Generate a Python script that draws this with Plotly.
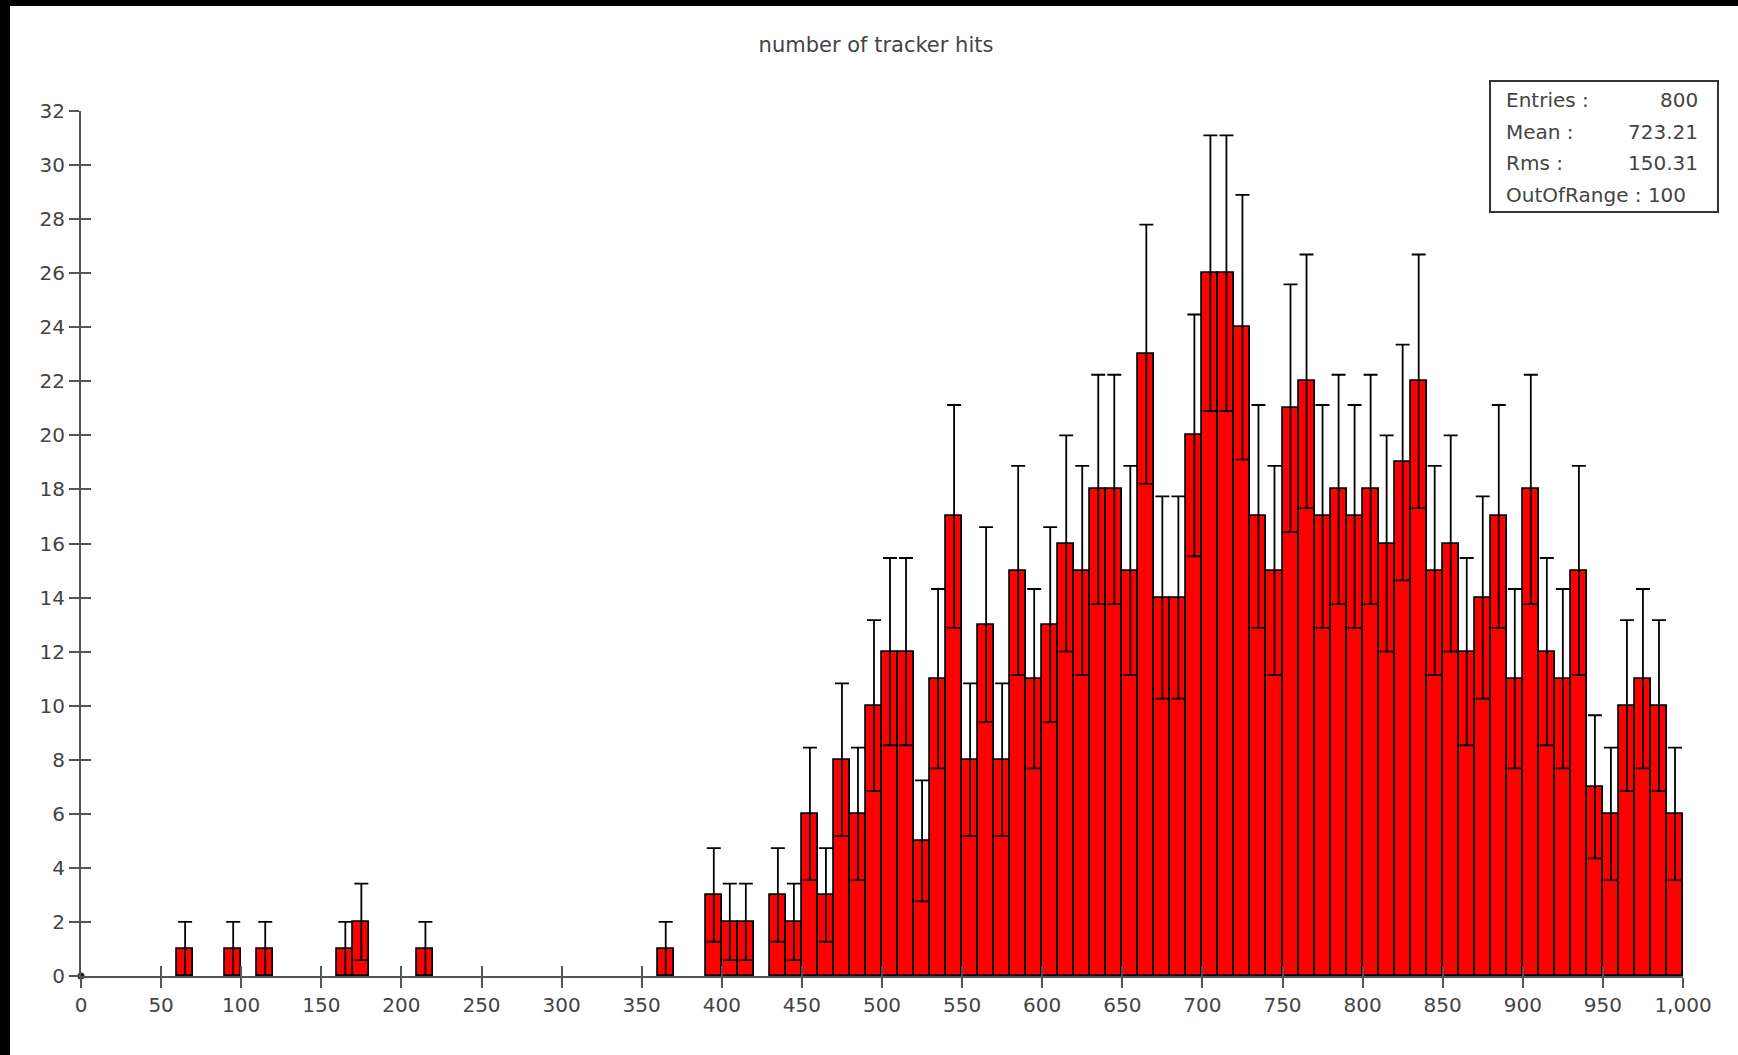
import plotly.graph_objects as go

# ---- data -------------------------------------------------------------
bin_low = list(range(0, 1000, 10))          # lower edges of 100 bins (width 10)
counts = [0] * 100
filled = {
    60: 1, 90: 1, 110: 1, 160: 1, 170: 2, 210: 1, 360: 1,
    390: 3, 400: 2, 410: 2, 420: 0, 430: 3, 440: 2,
    450: 6, 460: 3, 470: 8, 480: 6, 490: 10,
    500: 12, 510: 12, 520: 5, 530: 11, 540: 17,
    550: 8, 560: 13, 570: 8, 580: 15, 590: 11,
    600: 13, 610: 16, 620: 15, 630: 18, 640: 18,
    650: 15, 660: 23, 670: 14, 680: 14, 690: 20,
    700: 26, 710: 26, 720: 24, 730: 17, 740: 15,
    750: 21, 760: 22, 770: 17, 780: 18, 790: 17,
    800: 18, 810: 16, 820: 19, 830: 22, 840: 15,
    850: 16, 860: 12, 870: 14, 880: 17, 890: 11,
    900: 18, 910: 12, 920: 11, 930: 15, 940: 7,
    950: 6, 960: 10, 970: 11, 980: 10, 990: 6,
}
for k, v in filled.items():
    counts[k // 10] = v

stats_labels = ["Entries :", "Mean :", "Rms :"]
stats_values = ["800", "723.21", "150.31"]
out_of_range = "OutOfRange : 100"
title_text = "number of tracker hits"

# ---- figure -----------------------------------------------------------
xs = [b + 5 for b, c in zip(bin_low, counts) if c > 0]
ys = [c for c in counts if c > 0]

AX = "#555555"
TXT = "#444444"
FONT = "DejaVu Sans"

fig = go.Figure()
fig.add_trace(go.Bar(
    x=xs, y=ys, width=10,
    marker=dict(color="#ff0000", line=dict(color="#000000", width=1.8)),
    error_y=dict(type="sqrt", symmetric=True, color="#000000",
                 thickness=1.8, width=7),
    showlegend=False, hoverinfo="x+y",
))
# origin dot (on overlay axes used for cross ticks)
fig.add_trace(go.Scatter(
    x=[0], y=[0], mode="markers", xaxis="x2", yaxis="y2",
    marker=dict(color="#222222", size=7), cliponaxis=False,
    showlegend=False, hoverinfo="skip",
))

W, H = 1738, 1055
L, R, T, B = 81, 55, 111, 79
pw, ph = W - L - R, H - T - B

def px2x(p):
    return (p - L) / pw

def py2y(p):
    return (H - B - p) / ph

axis_common = dict(
    showgrid=False, zeroline=False, showline=True, linecolor=AX, linewidth=2,
    ticks="outside", ticklen=10, tickwidth=2, tickcolor=AX,
    tickfont=dict(family=FONT, size=20, color=TXT),
)

fig.update_layout(
    width=W, height=H,
    margin=dict(l=L, r=R, t=T, b=B, pad=0),
    paper_bgcolor="white", plot_bgcolor="white",
    bargap=0,
    title=dict(text=title_text, x=876 / W, xanchor="center",
               y=1 - 45 / H, yanchor="middle",
               font=dict(family=FONT, size=21, color=TXT)),
    xaxis=dict(range=[0, 1000], tick0=0, dtick=50, tickformat=",",
               **axis_common),
    yaxis=dict(range=[0, 32], tick0=0, dtick=2, **axis_common),
    xaxis2=dict(range=[0, 1000], tick0=0, dtick=50, overlaying="x",
                anchor="y2", side="bottom", showgrid=False, zeroline=False,
                showline=False, ticks="inside", ticklen=10, tickwidth=2,
                tickcolor=AX, showticklabels=False),
    yaxis2=dict(range=[0, 32], tick0=0, dtick=2, overlaying="y",
                anchor="x2", side="left", showgrid=False, zeroline=False,
                showline=False, ticks="inside", ticklen=10, tickwidth=2,
                tickcolor=AX, showticklabels=False),
    font=dict(family=FONT, color=TXT),
)

# stats box
box_l, box_r, box_t, box_b = 1490, 1718, 81, 212
fig.add_shape(type="rect", xref="paper", yref="paper",
              x0=px2x(box_l), x1=px2x(box_r), y0=py2y(box_b), y1=py2y(box_t),
              line=dict(color="#333333", width=2), fillcolor="white")
row_y = [100, 131.5, 163, 194.5]
for i, (lab, val) in enumerate(zip(stats_labels, stats_values)):
    fig.add_annotation(xref="paper", yref="paper", x=px2x(1504), y=py2y(row_y[i]),
                       text=lab, showarrow=False, xanchor="left", yanchor="middle",
                       font=dict(family=FONT, size=20, color=TXT))
    fig.add_annotation(xref="paper", yref="paper", x=px2x(1700), y=py2y(row_y[i]),
                       text=val, showarrow=False, xanchor="right", yanchor="middle",
                       font=dict(family=FONT, size=20, color=TXT))
fig.add_annotation(xref="paper", yref="paper", x=px2x(1504), y=py2y(row_y[3]),
                   text=out_of_range, showarrow=False, xanchor="left", yanchor="middle",
                   font=dict(family=FONT, size=20, color=TXT))

# black frame strips at top and left edge of the picture
fig.add_shape(type="rect", xref="paper", yref="paper", layer="above",
              x0=px2x(-5), x1=px2x(10), y0=py2y(H + 5), y1=py2y(-5),
              line=dict(width=0), fillcolor="black")
fig.add_shape(type="rect", xref="paper", yref="paper", layer="above",
              x0=px2x(-5), x1=px2x(W + 5), y0=py2y(6), y1=py2y(-5),
              line=dict(width=0), fillcolor="black")

fig.write_html("out.html",
               config={"displayModeBar": False},
               post_script="document.body.style.margin='0px';"
                           "document.body.style.overflow='hidden';")
